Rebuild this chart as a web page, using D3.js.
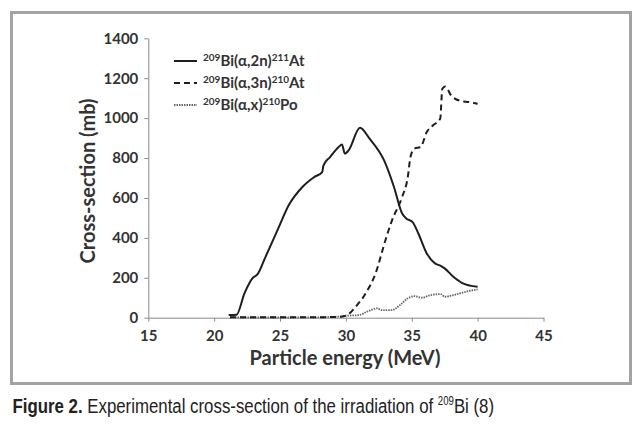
<!DOCTYPE html>
<html><head><meta charset="utf-8">
<script src="https://cdn.jsdelivr.net/npm/d3@7"></script>
<style>
html,body{margin:0;padding:0;background:#fff;}
svg{display:block;}
</style></head>
<body>
<svg id="chart" width="640" height="424"></svg>
<script>
// ---- data ----
const xTicks = [15, 20, 25, 30, 35, 40, 45];
const yTicks = [0, 200, 400, 600, 800, 1000, 1200, 1400];

const energy2n = [21.1, 21.7, 22.3, 22.9, 23.3, 23.9, 24.8, 25.7, 26.7, 27.6, 28.2, 28.3, 28.8, 29.45, 29.7, 29.92, 30.2, 31.07, 31.8, 32.9, 33.65, 34.27, 34.58, 35.05, 35.5, 36.14, 36.76, 37.2, 37.5, 38.16, 38.8, 40];
const cs2n     = [13, 15, 122, 197, 218, 305, 438, 568, 655, 705, 730, 763, 805, 855, 868, 822, 838, 952, 897, 788, 655, 522, 497, 480, 422, 322, 272, 260, 247, 205, 175, 155];

const energy3n = [21.2, 24, 27, 29.5, 30.08, 30.85, 31.5, 32.25, 33.0, 33.5, 34.27, 34.7, 34.9, 35.2, 35.67, 36.14, 36.6, 37.16, 37.32, 37.54, 38.0, 38.6, 39.4, 40];
const cs3n     = [2, 2, 2, 4, 13, 63, 122, 222, 388, 488, 605, 705, 805, 847, 855, 930, 963, 997, 1147, 1158, 1113, 1088, 1080, 1072];

const energyPo = [21.2, 25, 28, 29.5, 30.08, 31, 31.6, 32.4, 32.7, 33.5, 34.1, 34.7, 35.2, 35.8, 36.4, 37.2, 37.5, 38.16, 39.1, 40];
const csPo     = [1, 1, 2, 6, 10, 13, 30, 47, 38, 38, 63, 97, 108, 100, 113, 118, 105, 113, 130, 142];

const seriesNames = [
  {pre: "209", main: "Bi(\u03b1,2n)", post: "211", end: "At"},
  {pre: "209", main: "Bi(\u03b1,3n)", post: "210", end: "At"},
  {pre: "209", main: "Bi(\u03b1,x)",  post: "210", end: "Po"}
];

// ---- chart ----
const svg = d3.select("#chart");
const font = "Lato, 'Open Sans', sans-serif";

// outer frame
svg.append("rect").attr("x", 11.5).attr("y", 12.5).attr("width", 619).attr("height", 371)
  .attr("fill", "none").attr("stroke", "#a3a3a3").attr("stroke-width", 3);

const x = d3.scaleLinear().domain([15, 45]).range([148.3, 543.5]);
const y = d3.scaleLinear().domain([0, 1400]).range([317.7, 38.3]);

const xAxis = svg.append("g").attr("transform", `translate(0,${y(0)})`)
  .call(d3.axisBottom(x).tickValues(xTicks).tickFormat(d3.format("d")).tickSize(4).tickSizeOuter(0).tickPadding(9));
const yAxis = svg.append("g").attr("transform", `translate(${x(15)},0)`)
  .call(d3.axisLeft(y).tickValues(yTicks).tickFormat(d3.format("d")).tickSize(4).tickSizeOuter(0).tickPadding(6));

[xAxis, yAxis].forEach(a => {
  a.selectAll("path, line").attr("stroke", "#8a8a8a").attr("stroke-width", 1);
  a.selectAll("text").attr("font-family", font).attr("font-weight", "bold")
    .attr("font-size", 15).attr("fill", "#333");
});

// axis titles
svg.append("text").attr("x", 345).attr("y", 365).attr("text-anchor", "middle")
  .attr("font-family", font).attr("font-weight", "bold").attr("font-size", 20).attr("fill", "#333")
  .text("Particle energy (MeV)");
svg.append("text").attr("transform", "translate(95,181) rotate(-90)").attr("text-anchor", "middle")
  .attr("font-family", font).attr("font-weight", "bold").attr("font-size", 20).attr("fill", "#333")
  .text("Cross-section (mb)");

// lines
const line = d3.line().x(d => x(d[0])).y(d => y(d[1])).curve(d3.curveMonotoneX);
const styles = [
  {dash: null, color: "#1e1e1e", width: 2},
  {dash: "6,4", color: "#1e1e1e", width: 2},
  {dash: "1.5,1", color: "#666", width: 1.8}
];
const data = [
  d3.zip(energy2n, cs2n),
  d3.zip(energy3n, cs3n),
  d3.zip(energyPo, csPo)
];
[2, 0, 1].forEach(i => {
  svg.append("path").datum(data[i]).attr("d", line)
    .attr("fill", "none").attr("stroke", styles[i].color)
    .attr("stroke-width", styles[i].width)
    .attr("stroke-dasharray", styles[i].dash);
});

// legend
const legY = [61, 83, 105];
seriesNames.forEach((s, i) => {
  svg.append("line").attr("x1", 174).attr("x2", 197).attr("y1", legY[i]).attr("y2", legY[i])
    .attr("stroke", styles[i].color).attr("stroke-width", styles[i].width)
    .attr("stroke-dasharray", styles[i].dash);
  const t = svg.append("text").attr("x", 203).attr("y", legY[i] + 5)
    .attr("font-family", font).attr("font-weight", "bold").attr("font-size", 15).attr("fill", "#333");
  t.append("tspan").attr("font-size", 10).attr("dy", -5).text(s.pre);
  t.append("tspan").attr("dy", 5).text(s.main);
  t.append("tspan").attr("font-size", 10).attr("dy", -5).text(s.post);
  t.append("tspan").attr("dy", 5).text(s.end);
});

// caption (condensed look via horizontal scale)
const capG = svg.append("g");
const cap = capG.append("text").attr("x", 0).attr("y", 0)
  .attr("font-family", "'Liberation Sans', Arial, sans-serif")
  .attr("font-size", 21).attr("fill", "#222");
cap.append("tspan").attr("font-weight", "bold").text("Figure 2.");
cap.append("tspan").text(" Experimental cross-section of the irradiation of ");
cap.append("tspan").attr("font-size", 12).attr("dy", -8).text("209");
cap.append("tspan").attr("dy", 8).text("Bi (8)");
const capW = cap.node().getBBox().width;
capG.attr("transform", `translate(12.5,413) scale(${482 / capW},1)`);
</script>
</body></html>
